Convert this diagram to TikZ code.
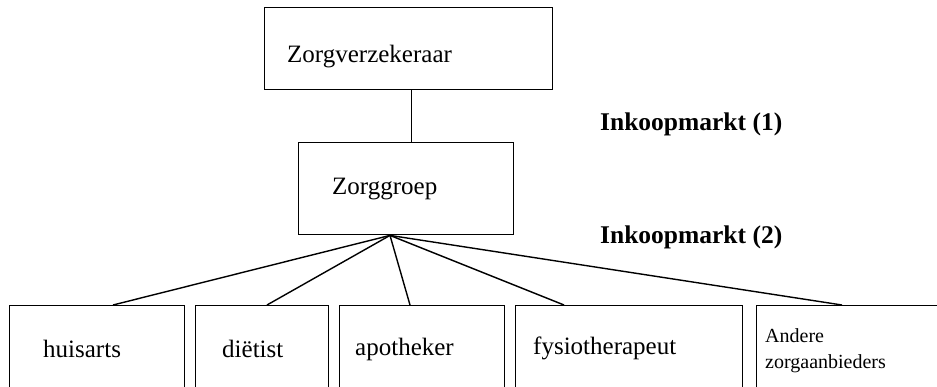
\documentclass[tikz,border=0pt]{standalone}
\usepackage{fontspec}
\setmainfont{Liberation Serif}
\begin{document}
\begin{tikzpicture}[x=1pt,y=-1pt,
  box/.style={draw, line width=1.4pt, inner sep=0pt, anchor=north west},
  lbl/.style={anchor=base west, inner sep=0pt, font=\fontsize{25}{30}\selectfont},
  small/.style={anchor=base west, inner sep=0pt, align=left, font=\fontsize{20}{26}\selectfont},
  mkt/.style={anchor=base west, inner sep=0pt, font=\fontsize{25.5}{30}\selectfont\bfseries},
  conn/.style={line width=1.4pt}]
\useasboundingbox (0,0) rectangle (937,387);
\clip (0,0) rectangle (937,387);
% boxes
\node[box, minimum width=288pt, minimum height=82pt] (zv) at (264,7) {};
\node[box, minimum width=215pt, minimum height=92pt] (zg) at (298,142) {};
\node[box, minimum width=175pt, minimum height=120pt] (b1) at (9,305) {};
\node[box, minimum width=133pt, minimum height=120pt] (b2) at (195,305) {};
\node[box, minimum width=165pt, minimum height=120pt] (b3) at (339,305) {};
\node[box, minimum width=227pt, minimum height=120pt] (b4) at (515,305) {};
\node[box, minimum width=220pt, minimum height=120pt] (b5) at (756,305) {};
% texts
\node[lbl] (tzv) at (287,63) {Zorgverzekeraar};
\node[lbl] (tzg) at (332,195) {Zorggroep};
\node[lbl] (t1) at (43,357) {huisarts};
\node[lbl] (t2) at (222,357) {diëtist};
\node[lbl] (t3) at (355,355) {apotheker};
\node[lbl] (t4) at (533,354) {fysiotherapeut};
\node[small] (t5a) at (765,342) {Andere};
\node[small] (t5b) at (765,368) {zorgaanbieders};
\node[mkt] (m1) at (600,131) {Inkoopmarkt (1)};
\node[mkt] (m2) at (600,244) {Inkoopmarkt (2)};
% connectors
\draw[conn] ([xshift=3pt]zv.south) -- ([xshift=3pt]zv.south |- zg.north);
\coordinate (fan) at ([xshift=92pt]zg.south west);
\draw[conn] (fan) -- ([xshift=104pt]b1.north west);
\draw[conn] (fan) -- ([xshift=72pt]b2.north west);
\draw[conn] (fan) -- ([xshift=71pt]b3.north west);
\draw[conn] (fan) -- ([xshift=49pt]b4.north west);
\draw[conn] (fan) -- ([xshift=86pt]b5.north west);
\end{tikzpicture}
\end{document}
